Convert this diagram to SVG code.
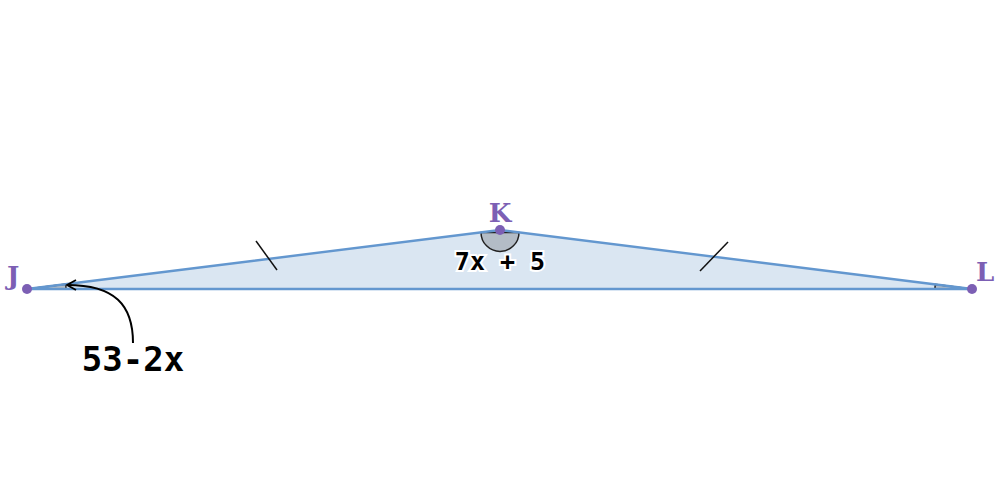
<svg xmlns="http://www.w3.org/2000/svg" width="1000" height="500" viewBox="0 0 1000 500">
<defs>
<style>
.side{stroke:#6397cf;stroke-width:2.4;fill:none;}
.tick{stroke:#111;stroke-width:1.5;}
.ang{fill:#b3bcc6;stroke:#222;stroke-width:1.5;}
.pt{fill:#7c5fb4;}
.plab{font-family:"DejaVu Serif",serif;font-weight:bold;font-size:26px;fill:#7c5fb4;stroke:#fff;stroke-width:3;paint-order:stroke;}
.lab{font-family:"DejaVu Sans Mono","Liberation Mono",monospace;font-weight:bold;fill:#000;stroke:#fff;stroke-width:4;paint-order:stroke;}
</style>
<marker id="arr" markerWidth="12" markerHeight="12" refX="10" refY="6" orient="auto" markerUnits="userSpaceOnUse">
<path d="M1,1 L10,6 L1,11" fill="none" stroke="#000" stroke-width="1.8"/>
</marker>
</defs>
<g id="triangle">
<polygon points="27,289 500,230 972,289" fill="#dae6f2" stroke="none"/>
<path class="ang" d="M481,232.4 A19,19 0 0 0 519,232.4 Z"/>
<path class="ang" d="M27,289 L66,289 A39,39 0 0 0 65.7,284.2 Z" stroke-width="1"/>
<path class="ang" d="M972,289 L935,289 A37,37 0 0 1 935.3,284.4 Z" stroke-width="1"/>
<polyline class="side" points="27,289 500,230 972,289 27,289"/>
<line class="tick" x1="256" y1="241" x2="277" y2="270"/>
<line class="tick" x1="700" y1="271" x2="728" y2="242"/>
</g>
<g id="J"><circle class="pt" cx="27" cy="289" r="5"/><text class="plab" x="7" y="285">J</text></g>
<g id="K"><circle class="pt" cx="500" cy="230" r="5"/><text class="plab" x="500" y="222" text-anchor="middle">K</text></g>
<g id="L"><circle class="pt" cx="972" cy="289" r="5"/><text class="plab" x="976" y="281">L</text></g>
<g id="connectors">
<path d="M133,343 C133,305 115,285 67,285" fill="none" stroke="#000" stroke-width="2" marker-end="url(#arr)"/>
</g>
<g id="labels">
<text class="lab" x="500" y="270" text-anchor="middle" font-size="25">7x + 5</text>
<text class="lab" x="133" y="371" text-anchor="middle" font-size="34">53-2x</text>
</g>
</svg>
